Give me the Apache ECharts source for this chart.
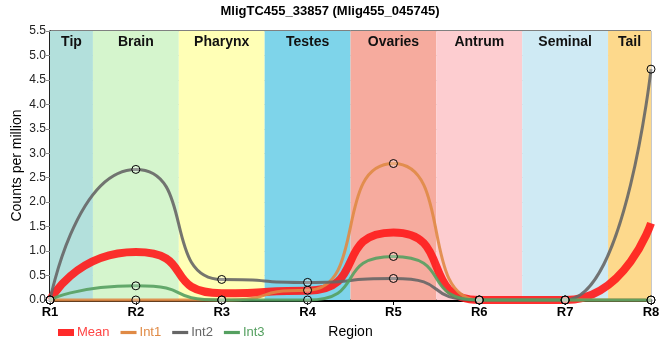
<!DOCTYPE html>
<html><head><meta charset="utf-8">
<script src="https://cdn.jsdelivr.net/npm/echarts@6/dist/echarts.min.js"></script>
<style>html,body{margin:0;padding:0;background:#fff}#c{width:660px;height:360px}</style>
</head><body><div id="c"></div>
<script>
const categories = ['R1','R2','R3','R4','R5','R6','R7','R8'];
const meanVals = [0, 0.98, 0.14, 0.19, 1.38, 0, 0, 1.57];
const int1Vals = [0, 0, 0, 0.20, 2.79, 0, 0, 0];
const int2Vals = [0, 2.67, 0.42, 0.36, 0.44, 0, 0, 4.72];
const int3Vals = [0, 0.29, 0, 0, 0.89, 0, 0, 0];
const regions = ['Tip','Brain','Pharynx','Testes','Ovaries','Antrum','Seminal','Tail'];
const regionColors = ['#b3e0dc','#d5f5cd','#ffffb6','#7ed4ea','#f6ab9e','#fdcdd0','#cfeaf4','#fdd98c'];
const yTicks = [0,0.5,1,1.5,2,2.5,3,3.5,4,4.5,5,5.5];

const FONT = "'Liberation Sans',Arial,sans-serif";
const SMOOTH = 0.7;
const toPairs = arr => arr.map((v,i)=>[i,v]);
const n = categories.length;
const bands = regions.map((name,i)=>[
  {xAxis: Math.max(0,i-0.5), name: name, itemStyle:{color: regionColors[i]}},
  {xAxis: Math.min(n-1,i+0.5)}
]);
const sym = {symbol:'circle', symbolSize:8, itemStyle:{color:'rgba(255,255,255,0.25)', borderColor:'#000', borderWidth:1}};
function lineSeries(name, vals, color){
  return Object.assign({
    name, type:'line', data: toPairs(vals), smooth:SMOOTH, smoothMonotone:'x', z:3, clip:false,
    lineStyle:{color, width:3, opacity:0.9}, showSymbol:true
  }, sym);
}
const chart = echarts.init(document.getElementById('c'), null, {renderer:'canvas'});
chart.setOption({
  animation:false,
  textStyle:{fontFamily:FONT},
  title:{text:'MligTC455_33857 (Mlig455_045745)', left:'center', top:0,
    textStyle:{fontFamily:FONT, fontSize:13, fontWeight:'bold', color:'#000'}},
  grid:{left:50, right:9, top:31, bottom:60, containLabel:false, outerBoundsMode:'none',
    show:true, borderColor:'#000', borderWidth:1, backgroundColor:'transparent'},
  legend:{left:53, top:321, itemGap:11, itemWidth:16, itemHeight:7,
    textStyle:{fontFamily:FONT, fontSize:13, padding:[0,0,0,-2]},
    data:[
      {name:'Mean', icon:'rect', itemStyle:{color:'#ff2a2a', borderWidth:0}, textStyle:{color:'#ff4444'}},
      {name:'Int1', icon:'path://M0,0H20V4H0Z', itemStyle:{color:'#e08a45', borderWidth:0}, textStyle:{color:'#e08a45'}},
      {name:'Int2', icon:'path://M0,0H20V4H0Z', itemStyle:{color:'#666666', borderWidth:0}, textStyle:{color:'#666666'}},
      {name:'Int3', icon:'path://M0,0H20V4H0Z', itemStyle:{color:'#55a060', borderWidth:0}, textStyle:{color:'#55a060'}}
    ]},
  xAxis:{type:'value', min:0, max:n-1, interval:1,
    name:'Region', nameLocation:'middle', nameGap:25, nameMoveOverlap:false,
    nameTextStyle:{fontFamily:FONT, fontSize:14, color:'#000'},
    axisLine:{show:true, lineStyle:{color:'#000', width:3}},
    axisTick:{show:true, length:5, lineStyle:{color:'#000'}},
    axisLabel:{formatter:v=>categories[v]||'', fontFamily:FONT, fontWeight:'bold', fontSize:13, color:'#000', margin:6},
    splitLine:{show:true, lineStyle:{color:'#c8c8c8', width:1}}},
  yAxis:{type:'value', min:0, max:5.5, interval:0.5,
    name:'Counts per million', nameLocation:'middle', nameGap:26, nameMoveOverlap:false,
    nameTextStyle:{fontFamily:FONT, fontSize:14, color:'#000'},
    axisLine:{show:true, lineStyle:{color:'#000', width:1.5}},
    axisTick:{show:true, length:4, lineStyle:{color:'#888'}},
    axisLabel:{formatter:v=>yTicks.includes(v)?v.toFixed(1):'', fontFamily:FONT, fontSize:12, color:'#222', margin:4},
    splitLine:{show:true, lineStyle:{color:'#c8c8c8', width:1}}},
  series:[
    {name:'Mean', type:'line', data: toPairs(meanVals), smooth:SMOOTH, smoothMonotone:'x', showSymbol:false, z:2, clip:false,
      lineStyle:{color:'#ff1a1a', width:8, opacity:0.9}, itemStyle:{color:'#ff2a2a'},
      markArea:{silent:true, z:1,
        label:{show:true, position:'insideTop', distance:4, fontFamily:FONT, fontSize:14, fontWeight:'bold', color:'#111'},
        data: bands}},
    lineSeries('Int1', int1Vals, '#e08a45'),
    lineSeries('Int2', int2Vals, '#666666'),
    lineSeries('Int3', int3Vals, '#55a060')
  ]
});
</script></body></html>
